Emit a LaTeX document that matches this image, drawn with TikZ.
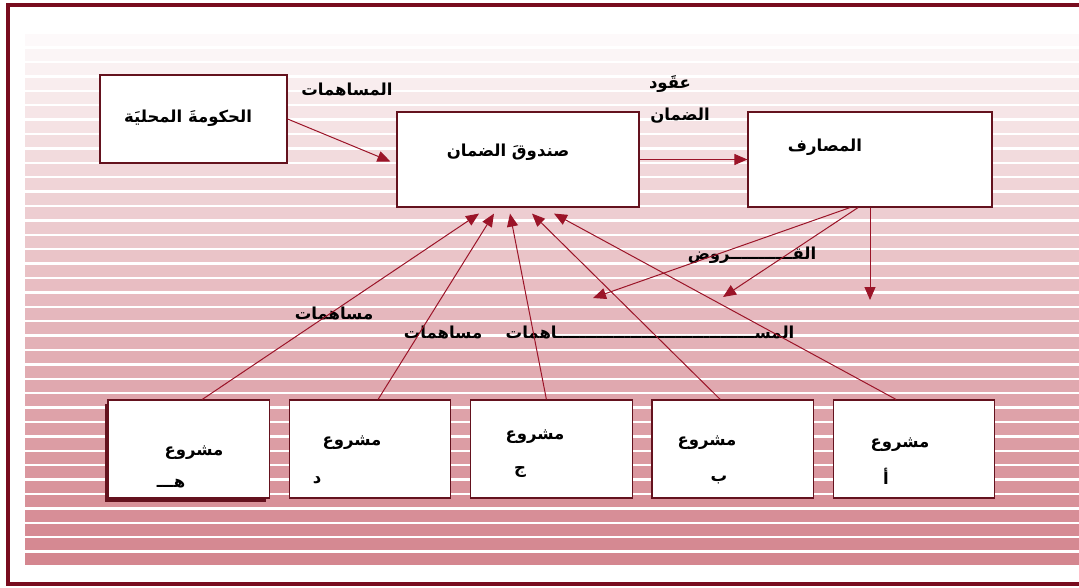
\documentclass[tikz,border=0pt]{standalone}
\usepackage{fontspec}
\newfontfamily\arabicfont[Script=Arabic]{DejaVu Sans}
\TeXXeTstate=1
\usetikzlibrary{positioning,calc,arrows.meta,shadows}
\definecolor{framered}{RGB}{120,12,30}
\definecolor{boxred}{RGB}{100,18,30}
\definecolor{arrowred}{RGB}{155,20,40}
\definecolor{stripe}{RGB}{212,134,143}
\tikzset{>={Triangle[length=13pt,width=11pt]}}

\begin{document}
\begin{tikzpicture}[x=1pt,y=-1pt,
  box/.style={draw=boxred,line width=1.2pt,fill=white,inner sep=0pt},
  pbox/.style={box,minimum width=161.5pt,minimum height=98pt},
  lbl/.style={font=\arabicfont\bfseries\fontsize{16.5}{19}\selectfont,inner sep=0pt},
  arr/.style={->,draw=arrowred,line width=1pt}]
\useasboundingbox (0,0) rectangle (1079,588);
\clip (0,0) rectangle (1079,588);
% background stripes
\foreach \i in {0,...,37} {
  \pgfmathsetmacro\pct{100*(\i/37)^0.85}
  \fill[stripe!\pct!white] (25,20+\i*14.4) rectangle (1079,32+\i*14.4);
}
\draw[framered,line width=4pt] (8,5) rectangle (1090,584);

% boxes
\node[box,minimum width=187pt,minimum height=88pt] (gov) at (193.5,119) {};
\node[box,minimum width=242pt,minimum height=95pt] (fund) at (518,159.5) {};
\node[box,minimum width=244pt,minimum height=95pt] (bank) at (870,159.5) {};
\node[pbox] (pa) at (914,449) {};
\node[pbox,left=18.6pt of pa] (pb) {};
\node[pbox,left=18.6pt of pb] (pc) {};
\node[pbox,left=18.6pt of pc] (pd) {};
\node[pbox,left=18.6pt of pd,drop shadow={shadow xshift=-3.5pt,shadow yshift=-4pt,fill=boxred,opacity=1}] (pe) {};

% texts
\node[lbl] (tgov) at (188,118) {\beginR الحكومةَ المحليَة\endR};
\node[lbl] (tfund) at (508,152) {\beginR صندوقَ الضمان\endR};
\node[lbl] (tbank) at (825,147) {\beginR المصارف\endR};
\node[lbl] (tcontrib) at (347,90) {\beginR المساهمات\endR};
\node[lbl] (tcon1) at (670,84) {\beginR عقَود\endR};
\node[lbl] (tcon2) at (680,116) {\beginR الضمان\endR};
\node[lbl] (tloan) at (752,255) {\beginR القـــــــــــروض\endR};
\node[lbl] (tc1) at (334,314) {\beginR مساهمات\endR};
\node[lbl] (tc2) at (443,333) {\beginR مساهمات\endR};
\node[lbl] (tc3) at (650,333) {\beginR المســـــــــــــــــــــــــــــــــــاهمات\endR};
\node[lbl] (tpa) at (900,445) {\beginR مشروع\endR};
\node[lbl] (tpa2) at (886,476) {\beginR أ\endR};
\node[lbl] (tpb) at (707,443) {\beginR مشروع\endR};
\node[lbl] (tpb2) at (719,480) {\beginR ب\endR};
\node[lbl] (tpc) at (535,437) {\beginR مشروع\endR};
\node[lbl] (tpc2) at (520,472) {\beginR ج\endR};
\node[lbl] (tpd) at (352,443) {\beginR مشروع\endR};
\node[lbl] (tpd2) at (317,480) {\beginR د\endR};
\node[lbl] (tpe) at (194,453) {\beginR مشروع\endR};
\node[lbl] (tpe2) at (171,484) {\beginR هـــ\endR};

% connectors
\draw[arr] (gov.east) -- ([xshift=-6pt,yshift=-2pt]fund.west);
\draw[arr] (fund.east) -- (bank.west);
\foreach \p/\s/\d in {pe/13.5/-39,pd/8/-24,pc/-5/-8,pb/-12.5/14,pa/-18/36}
  \draw[arr] ([xshift=\s pt]\p.north) -- ([xshift=\d pt,yshift=-6pt]fund.south);
\coordinate (l1) at (593,298);
\coordinate (l2) at (723,297);
\coordinate (l3) at (870,300);
\draw[arr] ([xshift=-20pt]bank.south) -- (l1);
\draw[arr] ([xshift=-12pt]bank.south) -- (l2);
\draw[arr] (bank.south) -- (l3);
\end{tikzpicture}
\end{document}
